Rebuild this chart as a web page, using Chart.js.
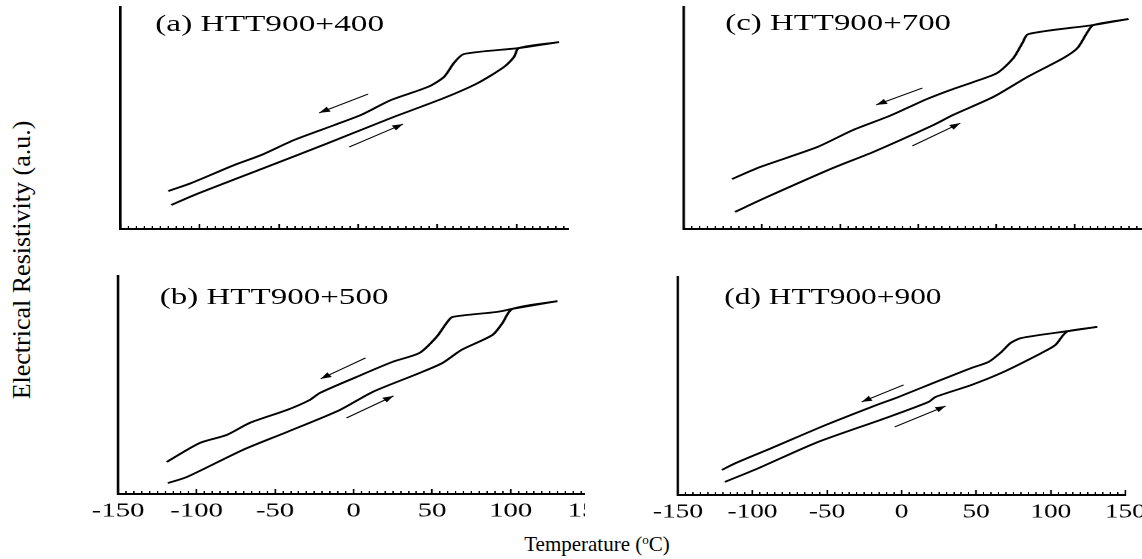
<!DOCTYPE html>
<html>
<head>
<meta charset="utf-8">
<script src="https://cdn.jsdelivr.net/npm/chart.js@4.4.1/dist/chart.umd.min.js"></script>
<style>
body { margin: 0; background: #fff; width: 1142px; height: 559px; position: relative; overflow: hidden;
       font-family: "Liberation Serif", "Times New Roman", serif; color: #000; }
.panel { position: absolute; transform-origin: 0 0; overflow: hidden; }
.panel canvas { position: absolute; left: 0; top: 0; }
.tag { position: absolute; font-size: 23px; line-height: 1; white-space: nowrap; }
#ytitle { position: absolute; left: 22px; top: 260px; font-size: 26px; line-height: 1; white-space: nowrap;
          transform: translate(-50%, -50%) rotate(-90deg); }
#xtitle { position: absolute; left: 597px; top: 534px; font-size: 21px; line-height: 1; white-space: nowrap;
          transform: translateX(-50%); }
#xtitle span { font-size: 0.62em; position: relative; top: -0.55em; }
</style>
</head>
<body>
<div class="panel" style="left:76.5px;top:4px;width:339px;height:229px;transform:scaleX(1.449)">
  <canvas id="pa" width="388" height="229"></canvas>
  <div class="tag" style="left:54px;top:8px">(a) HTT900+400</div>
</div>
<div class="panel" style="left:75.2px;top:273px;width:355px;height:255px;transform:scaleX(1.436)">
  <canvas id="pb" width="388" height="255"></canvas>
  <div class="tag" style="left:59px;top:12px">(b) HTT900+500</div>
</div>
<div class="panel" style="left:641.1px;top:4px;width:388px;height:229px;transform:scaleX(1.429)">
  <canvas id="pc" width="388" height="229"></canvas>
  <div class="tag" style="left:59px;top:7px">(c) HTT900+700</div>
</div>
<div class="panel" style="left:637.4px;top:274px;width:388px;height:255px;transform:scaleX(1.364)">
  <canvas id="pd" width="388" height="255"></canvas>
  <div class="tag" style="left:64px;top:11px">(d) HTT900+900</div>
</div>
<div id="ytitle">Electrical Resistivity (a.u.)</div>
<div id="xtitle">Temperature (<span>o</span>C)</div>

<script>
// temperature (C) / resistivity (a.u., 0-100 of axis height)
// (a) HTT900+400
const aCoolT = [-119.8, -105.3, -78.2, -61.2, -40.4, -15.1, 1.9, 20.8, 44.1, 54.2, 60.5, 66.8, 101.5, 126.7];
const aCoolR = [17.1, 20.7, 28.8, 33.3, 40.1, 46.8, 51.4, 58.1, 64.0, 68.5, 74.8, 78.8, 81.5, 84.2];
const aHeatT = [-117.9, -103.4, -59.3, -18.9, 20.8, 54.2, 75.7, 92.1, 98.4, 101.5, 126.7];
const aHeatR = [10.8, 15.3, 27.5, 38.7, 50.0, 59.0, 65.8, 73.0, 77.5, 81.5, 84.2];
const aArrowCoolT = [6.3, -24.6], aArrowCoolR = [60.8, 52.3];
const aArrowHeatT = [-5.7, 28.4], aArrowHeatR = [36.9, 47.3];

// (b) HTT900+500
const bCoolT = [-119.0, -98.0, -80.8, -66.2, -42.6, -28.0, -21.6, 1.9, 24.8, 42.0, 52.8, 59.2, 63.0, 91.0, 101.1, 129.8];
const bCoolR = [14.7, 23.4, 27.1, 32.6, 38.5, 43.1, 46.3, 53.7, 60.6, 64.7, 72.0, 78.4, 81.2, 83.5, 84.9, 88.5];
const bHeatT = [-118.3, -106.2, -70.6, -42.6, -8.9, 12.1, 42.0, 56.6, 68.7, 88.4, 94.8, 101.1, 129.8];
const bHeatR = [5.0, 7.8, 20.2, 28.4, 38.5, 46.8, 55.5, 60.1, 66.1, 72.9, 78.4, 84.9, 88.5];
const bArrowCoolT = [7.6, -21.0], bArrowCoolR = [62.4, 52.8];
const bArrowHeatT = [-4.5, 25.4], bArrowHeatR = [34.9, 45.0];

// (c) HTT900+700
const cCoolT = [-119.2, -101.3, -64.7, -41.7, -19.9, -7.1, 5.8, 20.5, 35.3, 50.6, 60.9, 66.7, 70.5, 112.2, 134.6];
const cCoolR = [22.5, 27.9, 36.9, 44.6, 50.5, 54.5, 58.6, 62.6, 66.2, 70.3, 77.0, 83.8, 87.8, 91.9, 94.6];
const cHeatT = [-117.3, -96.8, -54.5, -28.8, 9.6, 22.4, 48.1, 69.9, 92.9, 101.9, 108.3, 112.2, 134.6];
const cHeatR = [7.7, 14.4, 27.5, 34.7, 46.8, 51.4, 59.5, 68.5, 77.0, 81.5, 88.7, 91.9, 94.6];
const cArrowCoolT = [2.6, -26.9], cArrowCoolR = [63.5, 55.9];
const cArrowHeatT = [-3.8, 26.9], cArrowHeatR = [37.4, 47.7];

// (d) HTT900+900
const dCoolT = [-120.5, -111.1, -87.0, -50.9, -20.1, -2.0, 22.8, 46.9, 58.2, 66.9, 73.0, 80.3, 111.8, 131.2];
const dCoolR = [11.5, 14.7, 21.6, 32.1, 40.4, 45.0, 51.8, 58.3, 61.0, 65.6, 69.7, 72.0, 75.2, 77.1];
const dHeatT = [-118.5, -95.7, -57.6, -10.7, 18.1, 22.8, 46.9, 66.9, 93.7, 103.1, 108.4, 111.8, 131.2];
const dHeatR = [6.0, 12.4, 23.9, 35.3, 42.7, 45.0, 50.5, 56.0, 65.1, 68.8, 73.4, 75.2, 77.1];
const dArrowCoolT = [1.3, -26.8], dArrowCoolR = [50.5, 42.7];
const dArrowHeatT = [-4.7, 29.5], dArrowHeatR = [31.2, 40.8];

const tempMin = -150, tempMax = 150;
const majorStep = 50, minorStep = 5;

Chart.defaults.font.family = '"Liberation Serif", "Times New Roman", serif';
Chart.defaults.color = '#000';

const pts = (xs, ys) => xs.map((x, i) => ({ x: x, y: ys[i] }));

// filled head at the last point of any dataset marked arrow
const arrowHeads = {
    id: 'arrowHeads',
    afterDatasetsDraw(chart) {
        const ctx = chart.ctx;
        chart.data.datasets.forEach((ds, i) => {
            if (!ds.arrow) return;
            const el = chart.getDatasetMeta(i).data;
            const a = el[el.length - 2], b = el[el.length - 1];
            ctx.save();
            ctx.translate(b.x, b.y);
            ctx.rotate(Math.atan2(b.y - a.y, b.x - a.x));
            ctx.beginPath();
            ctx.moveTo(0, 0);
            ctx.lineTo(-7.5, -2.8);
            ctx.lineTo(-7.5, 2.8);
            ctx.closePath();
            ctx.fillStyle = '#000';
            ctx.fill();
            ctx.restore();
        });
    }
};

function curve(data, width) {
    return { data: data, showLine: true, borderColor: '#000', borderWidth: width,
             pointRadius: 0, tension: 0.25 };
}

function panel(id, cool, heat, arrowCool, arrowHeat, labels) {
    new Chart(document.getElementById(id), {
        type: 'scatter',
        data: {
            datasets: [
                curve(cool, 1.8),
                curve(heat, 1.8),
                Object.assign(curve(arrowCool, 1), { arrow: true, tension: 0 }),
                Object.assign(curve(arrowHeat, 1), { arrow: true, tension: 0 })
            ]
        },
        options: {
            responsive: false,
            devicePixelRatio: 2,
            animation: false,
            layout: { padding: { left: 30, right: 30, top: 3, bottom: 0 } },
            plugins: { legend: { display: false }, tooltip: { enabled: false } },
            scales: {
                x: {
                    type: 'linear', position: 'bottom', weight: 1,
                    min: tempMin, max: tempMax,
                    border: { display: true, width: 2, color: '#000' },
                    grid: { drawOnChartArea: false, tickLength: -5, tickWidth: 1.2, tickColor: '#000' },
                    ticks: { display: labels, stepSize: majorStep, autoSkip: false, maxRotation: 0,
                             padding: 10, font: { size: 20 }, color: '#000' },
                    afterFit: s => { s.height = labels ? 34 : 4; }
                },
                xm: {
                    type: 'linear', position: 'bottom', weight: 0,
                    min: tempMin, max: tempMax,
                    border: { display: false },
                    grid: { drawOnChartArea: false, tickLength: -3, tickWidth: 1, tickColor: '#000' },
                    ticks: { display: false, stepSize: minorStep },
                    afterFit: s => { s.height = 0; }
                },
                y: {
                    type: 'linear', min: 0, max: 100,
                    border: { display: true, width: 1.8, color: '#000' },
                    grid: { display: false, drawTicks: false },
                    ticks: { display: false },
                    afterFit: s => { s.width = 0; }
                }
            }
        },
        plugins: [arrowHeads]
    });
}

panel('pa', pts(aCoolT, aCoolR), pts(aHeatT, aHeatR), pts(aArrowCoolT, aArrowCoolR), pts(aArrowHeatT, aArrowHeatR), false);
panel('pb', pts(bCoolT, bCoolR), pts(bHeatT, bHeatR), pts(bArrowCoolT, bArrowCoolR), pts(bArrowHeatT, bArrowHeatR), true);
panel('pc', pts(cCoolT, cCoolR), pts(cHeatT, cHeatR), pts(cArrowCoolT, cArrowCoolR), pts(cArrowHeatT, cArrowHeatR), false);
panel('pd', pts(dCoolT, dCoolR), pts(dHeatT, dHeatR), pts(dArrowCoolT, dArrowCoolR), pts(dArrowHeatT, dArrowHeatR), true);
</script>
</body>
</html>
